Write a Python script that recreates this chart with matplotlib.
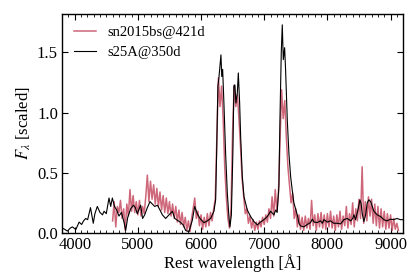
import numpy as np
import matplotlib
matplotlib.use('Agg')
import matplotlib.pyplot as plt
from matplotlib.ticker import MultipleLocator

plt.rcParams['font.family'] = ['Liberation Serif', 'DejaVu Serif']
plt.rcParams['mathtext.fontset'] = 'stix'

# sn2015bs @ 421d, sampled every 25 A from 4600 A
red_start = 4600
red_step = 25
red_flux = [
    0.10, 0.26, 0.05, 0.22, 0.17, 0.27, 0.12, 0.20, 0.02, 0.24,
    0.14, 0.36, 0.18, 0.31, 0.17, 0.26, 0.15, 0.27, 0.14, 0.22,
    0.16, 0.30, 0.48, 0.26, 0.43, 0.28, 0.40, 0.24, 0.37, 0.22,
    0.34, 0.19, 0.31, 0.17, 0.29, 0.16, 0.26, 0.14, 0.24, 0.12,
    0.22, 0.09, 0.19, 0.07, 0.17, 0.05, 0.13, 0.02, 0.10, 0.01,
    0.12, 0.20, 0.29, 0.12, 0.18, 0.06, 0.15, 0.03, 0.13, 0.05,
    0.16, 0.06, 0.17, 0.10, 0.20, 0.28, 0.80, 1.29, 1.05, 1.22,
    0.95, 0.55, 0.30, 0.12, 0.04, 0.20, 0.85, 1.23, 1.05, 1.15,
    0.95, 0.72, 0.45, 0.30, 0.16, 0.20, 0.08, 0.14, 0.04, 0.11,
    0.02, 0.09, 0.03, 0.10, 0.05, 0.13, 0.07, 0.15, 0.09, 0.20,
    0.12, 0.30, 0.14, 0.36, 0.18, 0.33, 0.75, 1.19, 0.95, 1.10,
    0.80, 0.55, 0.40, 0.25, 0.33, 0.12, 0.20, 0.05, 0.15, 0.03,
    0.13, 0.02, 0.14, 0.04, 0.12, 0.03, 0.27, 0.06, 0.15, 0.02,
    0.16, 0.05, 0.17, 0.04, 0.15, 0.03, 0.16, 0.05, 0.18, 0.04,
    0.14, 0.02, 0.15, 0.05, 0.18, 0.03, 0.14, 0.06, 0.22, 0.04,
    0.16, 0.07, 0.25, 0.05, 0.20, 0.10, 0.28, 0.12, 0.55, 0.08,
    0.26, 0.10, 0.30, 0.14, 0.28, 0.08, 0.24, 0.06, 0.22, 0.04,
    0.20, 0.05, 0.18, 0.03, 0.16, 0.04, 0.15, 0.02, 0.12, 0.03,
    0.08, 0.02,
]
red_wave = red_start + red_step * np.arange(len(red_flux))

# s25A model @ 350d
black_wave = [
    3805, 3840, 3885, 3930, 3964, 4000, 4020, 4070, 4110, 4140,
    4174, 4205, 4250, 4294, 4320, 4358, 4400, 4440, 4465, 4500,
    4543, 4570, 4596, 4630, 4665, 4701, 4740, 4780, 4807, 4840,
    4886, 4929, 4960, 4990, 5044, 5075, 5108, 5150, 5192, 5230,
    5266, 5310, 5350, 5388, 5440, 5493, 5546, 5585, 5625, 5670,
    5720, 5756, 5808, 5862, 5899, 5940, 5983, 6046, 6100, 6152,
    6204, 6231, 6247, 6267, 6283, 6299, 6315, 6328, 6342, 6362,
    6389, 6416, 6441, 6457, 6480, 6504, 6520, 6536, 6552, 6574,
    6590, 6611, 6627, 6653, 6680, 6733, 6785, 6838, 6891, 6940,
    6995, 7049, 7101, 7154, 7180, 7205, 7233, 7249, 7270, 7286,
    7302, 7323, 7338, 7365, 7391, 7418, 7445, 7470, 7523, 7550,
    7576, 7628, 7680, 7734, 7760, 7790, 7840, 7892, 7920, 7945,
    8000, 8050, 8100, 8156, 8210, 8261, 8314, 8370, 8400, 8420,
    8446, 8483, 8515, 8535, 8552, 8578, 8605, 8631, 8657, 8685,
    8710, 8736, 8789, 8842, 8894, 8940, 9000, 9050, 9100, 9158,
    9200,
]
black_flux = [
    0.04, 0.03, 0.015, 0.04, 0.05, 0.035, 0.03, 0.09, 0.07, 0.10,
    0.12, 0.11, 0.21, 0.08, 0.16, 0.22, 0.17, 0.15, 0.18, 0.16,
    0.29, 0.22, 0.29, 0.22, 0.19, 0.14, 0.17, 0.09, 0.02, 0.13,
    0.20, 0.23, 0.21, 0.16, 0.23, 0.12, 0.15, 0.21, 0.26, 0.24,
    0.22, 0.23, 0.19, 0.15, 0.12, 0.15, 0.18, 0.12, 0.105, 0.09,
    0.065, 0.02, 0.01, 0.105, 0.22, 0.16, 0.12, 0.085, 0.10, 0.12,
    0.18, 0.275, 0.67, 1.22, 1.29, 1.39, 1.48, 1.30, 1.36, 1.08,
    0.66, 0.33, 0.136, 0.05, 0.15, 0.67, 1.22, 1.23, 1.08, 1.16,
    1.33, 1.08, 0.80, 0.47, 0.30, 0.19, 0.136, 0.094, 0.067, 0.09,
    0.11, 0.136, 0.18, 0.15, 0.19, 0.17, 0.39, 0.94, 1.50, 1.73,
    1.44, 1.54, 1.36, 0.94, 0.66, 0.47, 0.35, 0.25, 0.15, 0.08,
    0.058, 0.05, 0.07, 0.086, 0.114, 0.09, 0.086, 0.10, 0.08, 0.11,
    0.09, 0.10, 0.08, 0.08, 0.075, 0.11, 0.12, 0.10, 0.12, 0.15,
    0.11, 0.19, 0.275, 0.24, 0.16, 0.094, 0.15, 0.25, 0.275, 0.26,
    0.22, 0.18, 0.15, 0.136, 0.11, 0.10, 0.114, 0.11, 0.12, 0.11,
    0.11,
]

fig = plt.figure(figsize=(4.11, 2.74), dpi=100)
ax = fig.add_axes([0.151, 0.150, 0.830, 0.799])

ax.plot(red_wave, red_flux, color='#c9566b', lw=1.1, alpha=0.9, label='sn2015bs@421d')
ax.plot(black_wave, black_flux, color='black', lw=0.8, label='s25A@350d')

ax.set_xlim(3800, 9200)
ax.set_ylim(0, 1.82)
ax.xaxis.set_major_locator(MultipleLocator(1000))
ax.xaxis.set_minor_locator(MultipleLocator(100))
ax.yaxis.set_major_locator(MultipleLocator(0.5))
ax.tick_params(which='both', direction='in', top=True, right=True, labelsize=12)
ax.tick_params(which='major', length=4, width=0.8, pad=3)
ax.tick_params(which='minor', length=2, width=0.6)
for s in ax.spines.values():
    s.set_linewidth(1.0)

ax.set_xlabel('Rest wavelength [Å]', fontsize=12, labelpad=1)
ax.set_ylabel(r'$F_\lambda$ [scaled]', fontsize=12, labelpad=3)
ax.legend(loc='upper left', frameon=False, fontsize=10.5, handlelength=1.5,
          handletextpad=0.8, borderaxespad=0.4, labelspacing=0.45)

fig.savefig('out.png', dpi=100)
